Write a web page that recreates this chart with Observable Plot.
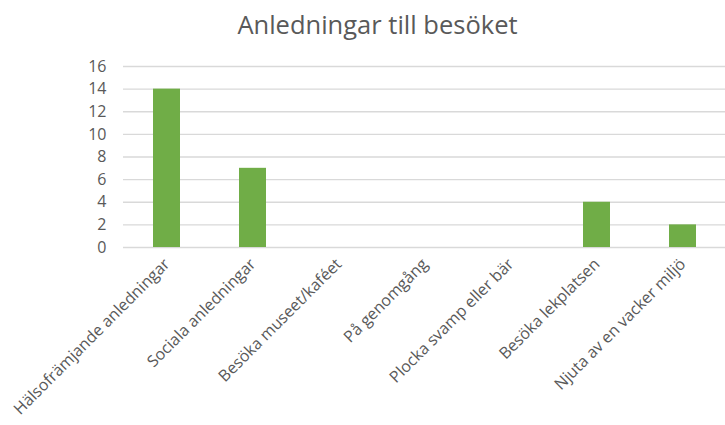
<!DOCTYPE html>
<html>
<head>
<meta charset="utf-8">
<script src="https://cdn.jsdelivr.net/npm/d3@7"></script>
<script src="https://cdn.jsdelivr.net/npm/@observablehq/plot@0.6"></script>
<style>
  html, body { margin: 0; padding: 0; background: #fff; }
  #title { height: 45px; line-height: 48px; text-align: center; font-family: "Open Sans", Lato, sans-serif; font-size: 25.5px; color: #595959; padding-left: 30px; box-sizing: border-box; width: 725px; }
</style>
</head>
<body>
<div id="title">Anledningar till besöket</div>
<div id="chart"></div>
<script>
const categories = [
  "Hälsofrämjande anledningar",
  "Sociala anledningar",
  "Besöka museet/kaféet",
  "På genomgång",
  "Plocka svamp eller bär",
  "Besöka lekplatsen",
  "Njuta av en vacker miljö"
];
const values = [14, 7, 0, 0, 0, 4, 2];
const yTicks = [0, 2, 4, 6, 8, 10, 12, 14, 16];

const data = categories.map((c, i) => ({category: c, value: values[i]}));

const chart = Plot.plot({
  width: 725,
  height: 380,
  marginLeft: 123,
  marginRight: 0,
  marginTop: 21,
  marginBottom: 178,
  style: {fontFamily: "'Open Sans', Lato, sans-serif", fontSize: "15px", color: "#595959", background: "#fff"},
  x: {domain: categories, range: [121, 728], paddingInner: 0.69, paddingOuter: 0.345, align: 0.5},
  y: {domain: [0, 16], ticks: yTicks},
  marks: [
    Plot.gridY(yTicks, {stroke: "#d9d9d9", strokeOpacity: 1, strokeWidth: 1.3}),
    Plot.barY(data, {x: "category", y: "value", fill: "#70ad47"}),
    Plot.axisY(yTicks, {tickSize: 0, tickPadding: 17, label: null, fill: "#595959", fontSize: 16}),
    Plot.axisX({tickSize: 0, tickRotate: -45, tickPadding: 14, label: null, fill: "#595959", fontSize: 16})
  ]
});
document.getElementById("chart").appendChild(chart);
</script>
</body>
</html>
